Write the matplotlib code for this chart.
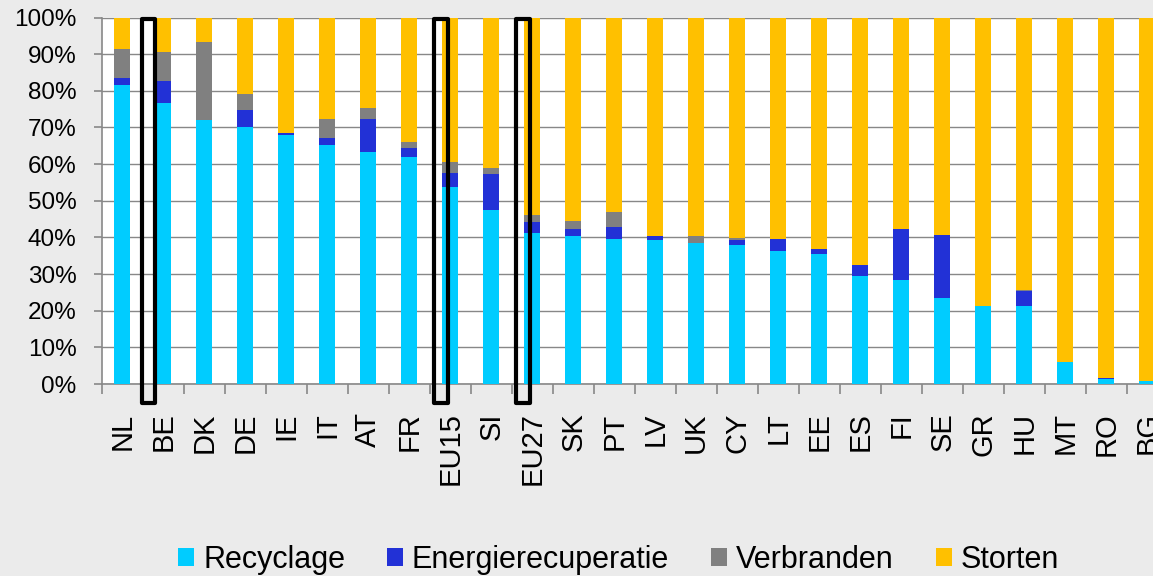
import matplotlib.pyplot as plt
import numpy as np
from matplotlib.patches import Patch, Rectangle
from matplotlib.ticker import FixedLocator

plt.rcParams['font.family'] = ['Liberation Sans', 'DejaVu Sans']

# Landen / regio's
landen = ['NL', 'BE', 'DK', 'DE', 'IE', 'IT', 'AT', 'FR', 'EU15', 'SI', 'EU27', 'SK', 'PT',
          'LV', 'UK', 'CY', 'LT', 'EE', 'ES', 'FI', 'SE', 'GR', 'HU', 'MT', 'RO', 'BG']

# Aandelen per verwerkingswijze (%)
recyclage = [81.5, 76.8, 71.9, 70.0, 67.9, 65.1, 63.3, 62.0, 53.8, 47.4, 41.2, 40.4, 39.5,
             39.4, 38.5, 38.0, 36.4, 35.5, 29.6, 28.3, 23.5, 21.4, 21.3, 6.1, 1.3, 0.7]
energierecuperatie = [1.9, 5.8, 0.2, 4.8, 0.5, 2.1, 9.1, 2.5, 3.9, 9.9, 3.0, 1.9, 3.3,
                      1.0, 0.1, 1.4, 3.1, 1.3, 2.8, 13.9, 17.1, 0.0, 4.0, 0.0, 0.3, 0.0]
verbranden = [8.0, 7.9, 21.2, 4.2, 0.1, 5.2, 3.0, 1.6, 2.8, 1.7, 2.0, 2.3, 4.1,
              0.0, 1.8, 0.5, 0.0, 0.0, 0.1, 0.1, 0.0, 0.0, 0.3, 0.0, 0.1, 0.0]
storten = [8.6, 9.5, 6.7, 21.0, 31.5, 27.6, 24.6, 33.9, 39.5, 41.0, 53.8, 55.4, 53.1,
           59.6, 59.6, 60.1, 60.5, 63.2, 67.5, 57.7, 59.4, 78.6, 74.4, 93.9, 98.3, 99.3]

y_ticks = [0, 10, 20, 30, 40, 50, 60, 70, 80, 90, 100]

series = [('Recyclage', recyclage, '#00CCFF'),
          ('Energierecuperatie', energierecuperatie, '#2231D6'),
          ('Verbranden', verbranden, '#808080'),
          ('Storten', storten, '#FFC000')]

fig = plt.figure(figsize=(11.53, 5.76), dpi=100)
fig.patch.set_facecolor('#EBEBEB')
ax = fig.add_axes([0.0882, 0.3333, 0.9246, 0.6363])
ax.set_facecolor('white')

x = np.arange(len(landen))
bottom = np.zeros(len(landen))
for naam, waarden, kleur in series:
    w = np.array(waarden) / 100.0
    ax.bar(x, w, 0.39, bottom=bottom, color=kleur, zorder=3)
    bottom += w

ax.set_xlim(-0.5, len(landen) - 0.5)
ax.set_ylim(0, 1)

ax.set_yticks([v / 100 for v in y_ticks])
ax.set_yticklabels([f'{v}%' for v in y_ticks], fontsize=17.5)
ax.yaxis.grid(True, color='#888888', linewidth=1.0, zorder=0)
ax.set_axisbelow(True)

ax.set_xticks(x)
ax.set_xticklabels(landen, rotation=90, fontsize=21)
ax.xaxis.set_minor_locator(FixedLocator(np.arange(-0.5, len(landen), 1.0)))
ax.tick_params(axis='x', which='major', length=0, pad=20.5)
ax.tick_params(axis='x', which='minor', length=7.5, width=1.2, color='#888888')
ax.tick_params(axis='y', length=6, width=1.2, color='#888888', pad=12)

for s in ['top', 'right']:
    ax.spines[s].set_visible(False)
for s in ['left', 'bottom']:
    ax.spines[s].set_color('#888888')
    ax.spines[s].set_linewidth(1.2)

# Markeringen rond BE, EU15 en EU27
trans = ax.get_xaxis_transform()
for x0, x1 in [(0.483, 0.80), (7.605, 7.934), (9.605, 9.934)]:
    ax.add_patch(Rectangle((x0, -0.051), x1 - x0, 1.048, transform=trans, fill=False,
                           edgecolor='black', linewidth=3.0, joinstyle='round',
                           clip_on=False, zorder=5))

handles = [Patch(facecolor=k, edgecolor='none', label=n) for n, _, k in series]
fig.legend(handles=handles, loc='center', bbox_to_anchor=(0.5365, 0.028), ncol=4,
           frameon=False, fontsize=22, handlelength=0.52, handleheight=0.52,
           handletextpad=0.3, columnspacing=1.37, borderpad=0)

fig.savefig('out.png', dpi=100, facecolor=fig.get_facecolor())
